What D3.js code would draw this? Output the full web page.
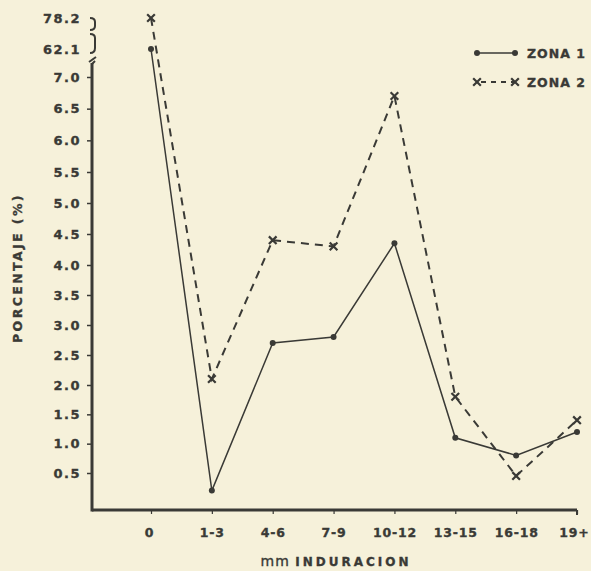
<!DOCTYPE html>
<html><head><meta charset="utf-8">
<script src="https://cdn.jsdelivr.net/npm/d3@7"></script>
<style>
html,body{margin:0;padding:0;background:#f6f1da;}
svg{display:block;}
text{font-family:"DejaVu Sans",sans-serif !important;font-weight:bold;fill:#3a3a36;stroke:#3a3a36;stroke-width:0.35px;}
</style></head>
<body>
<script>
const categories = ["0","1-3","4-6","7-9","10-12","13-15","16-18","19+"];
// first category value lies on the broken (upper) part of the axis
const zona1 = [62.1, 0.2, 2.7, 2.8, 4.35, 1.1, 0.8, 1.2];
const zona2 = [78.2, 2.1, 4.4, 4.3, 6.7, 1.8, 0.45, 1.4];
const yTicks = [0.5,1.0,1.5,2.0,2.5,3.0,3.5,4.0,4.5,5.0,5.5,6.0,6.5,7.0];
const breakTicks = [62.1, 78.2];
const seriesNames = ["ZONA 1","ZONA 2"];

const W = 591, H = 571;
const ink = "#3a3a36";
const svg = d3.select("body").append("svg").attr("width", W).attr("height", H);
svg.append("rect").attr("width",W).attr("height",H).attr("fill","#f6f1da");

const x = d3.scalePoint().domain(categories).range([151, 577]);
// hand-drawn axis: piecewise linear through read tick positions
const y = d3.scaleLinear().domain([0.5, 2, 4, 5.5, 7]).range([473, 385, 265, 172, 77]);
const yBreak = d3.scaleLinear().domain([62.1, 78.2]).range([49, 18]);
const axisX = 92, baseY = 510;

function yPos(v){ return v > 10 ? yBreak(v) : y(v); }

// Y axis (lower part)
const gy = svg.append("g").attr("transform", `translate(${axisX},0)`)
  .call(d3.axisLeft(y).tickValues(yTicks).tickFormat(d3.format(".1f")).tickSize(5).tickPadding(6));
gy.select(".domain").remove();
gy.selectAll(".tick line").attr("stroke", ink).attr("stroke-width", 1.5);
gy.selectAll(".tick text").style("font-size","13px").style("letter-spacing","1.5px");

// Break labels
const gb = svg.append("g").attr("transform", `translate(${axisX},0)`)
  .call(d3.axisLeft(yBreak).tickValues(breakTicks).tickFormat(d3.format(".1f")).tickSize(0).tickPadding(11));
gb.select(".domain").remove();
gb.selectAll(".tick text").style("font-size","13px").style("letter-spacing","1.5px");

// main axis lines
svg.append("line").attr("x1",axisX).attr("x2",axisX).attr("y1",63).attr("y2",baseY+1.5)
  .attr("stroke",ink).attr("stroke-width",3);
svg.append("line").attr("x1",axisX).attr("x2",577).attr("y1",baseY).attr("y2",baseY)
  .attr("stroke",ink).attr("stroke-width",3);
svg.append("line").attr("x1",577).attr("x2",577).attr("y1",baseY).attr("y2",baseY+5)
  .attr("stroke",ink).attr("stroke-width",2);

// break symbols
const brk = svg.append("g").attr("fill","none").attr("stroke",ink).attr("stroke-width",2);
brk.append("path").attr("d",`M${axisX-2},18 Q${axisX+3},18 ${axisX+3},22 L${axisX+3},26 Q${axisX+3},30 ${axisX-2},30`);
brk.append("path").attr("d",`M${axisX-2},34 Q${axisX+3},34 ${axisX+3},38 L${axisX+3},48 Q${axisX+3},53 ${axisX-2},53`);
brk.append("path").attr("d",`M${axisX-3},62 L${axisX+4},57`);
brk.append("path").attr("d",`M${axisX},64 L${axisX+3},61`);

// X axis ticks & labels
const gx = svg.append("g").attr("transform", `translate(0,${baseY})`)
  .call(d3.axisBottom(x).tickSize(4).tickPadding(14));
gx.select(".domain").remove();
gx.selectAll(".tick line").attr("stroke", ink).attr("stroke-width", 1.2);
gx.selectAll(".tick text").style("font-size","12.5px").style("letter-spacing","0.8px")
  .attr("text-anchor", d => d === "19+" ? "end" : "middle")
  .attr("dx", d => d === "19+" ? 12 : (d === "0" ? -2 : 0));

// axis titles
svg.append("text").attr("transform","translate(22,268) rotate(-90)").attr("text-anchor","middle")
  .style("font-size","12.5px").style("letter-spacing","2.4px").text("PORCENTAJE (%)");
const xt = svg.append("text").attr("x",336).attr("y",566).attr("text-anchor","middle")
  .style("font-size","12px").style("letter-spacing","3px");
xt.append("tspan").style("font-weight","normal").style("font-size","14px").style("letter-spacing","1px").text("mm  ");
xt.append("tspan").text("INDURACION");

// lines
const line = d3.line().x((d,i)=>x(categories[i])).y(d=>yPos(d));
svg.append("path").datum(zona1).attr("d",line).attr("fill","none").attr("stroke",ink).attr("stroke-width",1.5);
svg.append("path").datum(zona2).attr("d",line).attr("fill","none").attr("stroke",ink)
  .attr("stroke-width",2).attr("stroke-dasharray","8,6");

// markers
svg.selectAll(".dot").data(zona1).enter().append("circle")
  .attr("cx",(d,i)=>x(categories[i])).attr("cy",d=>yPos(d)).attr("r",3).attr("fill",ink);
const xm = d3.symbol().type(d3.symbolX).size(40);
svg.selectAll(".xm").data(zona2).enter().append("path").attr("d",xm)
  .attr("transform",(d,i)=>`translate(${x(categories[i])},${yPos(d)})`)
  .attr("fill","none").attr("stroke",ink).attr("stroke-width",2.2);

// legend
const lg = svg.append("g");
lg.append("line").attr("x1",477).attr("x2",515).attr("y1",53).attr("y2",53).attr("stroke",ink).attr("stroke-width",1.5);
lg.append("circle").attr("cx",477).attr("cy",53).attr("r",3).attr("fill",ink);
lg.append("circle").attr("cx",515).attr("cy",53).attr("r",3).attr("fill",ink);
lg.append("line").attr("x1",477).attr("x2",515).attr("y1",82).attr("y2",82).attr("stroke",ink).attr("stroke-width",2).attr("stroke-dasharray","5,5").attr("stroke-dashoffset",-4);
lg.append("path").attr("d",xm).attr("transform","translate(477,82)").attr("fill","none").attr("stroke",ink).attr("stroke-width",2.2);
lg.append("path").attr("d",xm).attr("transform","translate(515,82)").attr("fill","none").attr("stroke",ink).attr("stroke-width",2.2);
lg.selectAll(".lt").data(seriesNames).enter().append("text")
  .attr("x",527).attr("y",(d,i)=>[58,87][i]).style("font-size","12.5px").style("letter-spacing","1px").text(d=>d);
</script>
</body></html>
